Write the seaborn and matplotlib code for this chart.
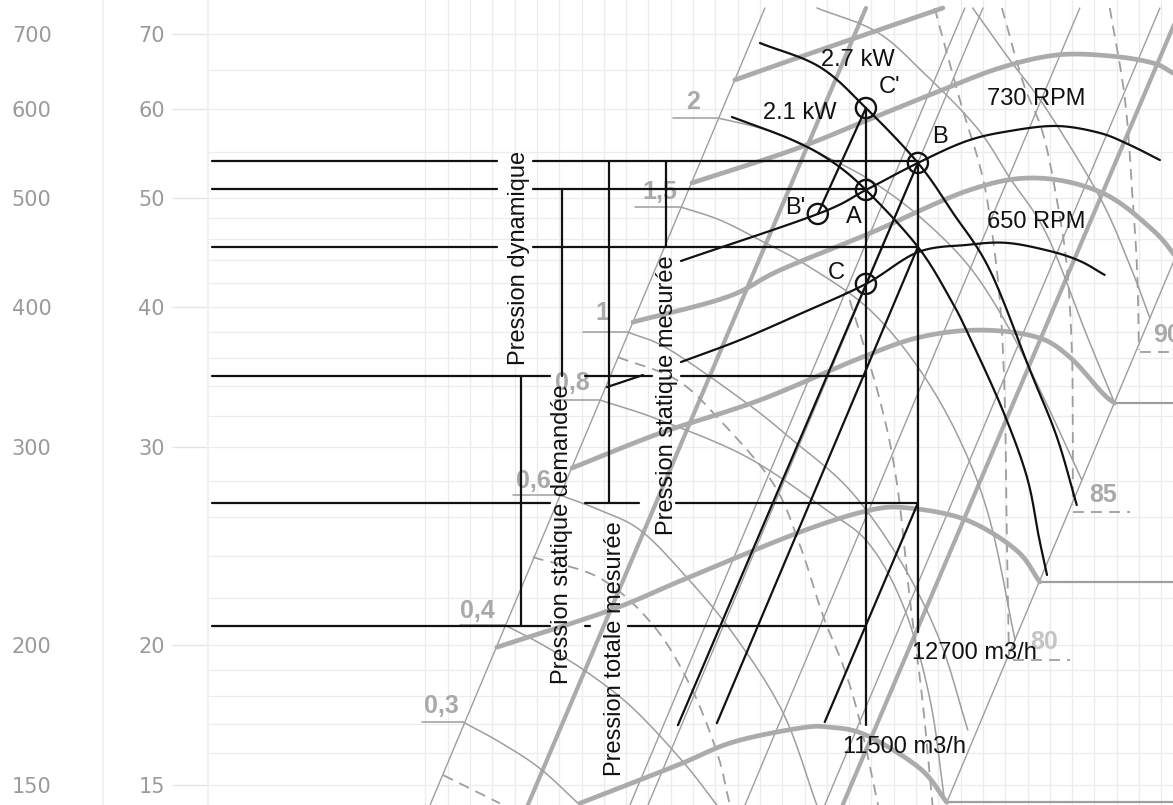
import matplotlib
matplotlib.use("Agg")
import matplotlib.pyplot as plt
import numpy as np
import seaborn as sns

sns.set_theme(style="white")
plt.rcParams['font.family'] = ['Liberation Sans', 'DejaVu Sans']

# ---------------- axis values (Pa / mmCE) ----------------
pa_ticks = [150, 200, 300, 400, 500, 600, 700]
mm_ticks = [15, 20, 30, 40, 50, 60, 70]
mm_grid = [15, 16, 17, 18, 19, 20, 22, 24, 26, 28, 30, 32, 34, 36, 38, 40,
           42, 44, 46, 48, 50, 55, 60, 65, 70]

# ---------------- grey fan-selection chart (flow m3/h, pressure Pa) -------
left_bound_q = [9483, 5003]
left_bound_p = [738.4, 143.9]
right_bound_q = [13420, 25350]
right_bound_p = [144.7, 738.4]
thick_left_q = [11500, 6030]
thick_left_p = [738.4, 143.9]
thick_right_q = [11000, 20990]
thick_right_p = [143.9, 738.4]
end_lines_p = [144.7, 227.4, 328.2]
end_lines_q0 = [13420, 16030, 18490]

# thin straight lines parallel to the boundaries
par_q_bottom = [7328, 7585, 9128, 10630]
par_q_top = [13890, 14380, 17300, 20160]

# fan curves (thick grey)
fan0_q = [6660, 8017, 8919, 10137, 10730, 11500, 12750, 13420]
fan0_p = [144.4, 156.1, 163.7, 168.5, 168.8, 166.1, 155.1, 144.7]
fan1_q = [5683, 7054, 8171, 10137, 11590, 12510, 13940, 15320, 16030]
fan1_p = [198.9, 214.6, 229.2, 251.9, 263.5, 264.6, 258.2, 242.8, 227.4]
fan2_q = [6560, 7762, 9393, 11370, 12750, 14300, 15940, 16970, 18070, 18490]
fan2_p = [287.3, 308.6, 330.3, 360.0, 375.8, 381.3, 375.8, 360.7, 335.0, 328.2]
fan3_q = [7370, 8816, 9759, 11590, 14020, 15940, 18070, 19890, 20950]
fan3_p = [387.6, 408.0, 431.2, 465.2, 508.3, 520.9, 505.1, 468.1, 438.4]
fan4_q = [8249, 10000, 11540, 13170, 14850, 16560, 18320, 19890, 20670]
fan4_p = [515.7, 551.8, 586.8, 621.4, 652.9, 670.5, 669.2, 659.6, 646.2]
fan5_q = [8952, 10137, 11590, 13320]
fan5_p = [637.0, 667.7, 701.5, 738.4]

# power curves (thin grey, kW)
kw_labels = ['2', '1,5', '1', '0,8', '0,6', '0,4', '0,3']
kw2_q = [8667, 9393, 10000, 10670, 11590, 12750, 14020, 15140, 16180, 17370]
kw2_p = [589.2, 577.2, 563.2, 543.9, 518.8, 480.9, 433.9, 381.3, 330.3, 280.3]
kw15_q = [8078, 8701, 9393, 10330, 11590, 12750, 13760, 14570, 15290]
kw15_p = [490.8, 477.9, 458.6, 433.9, 397.3, 351.2, 304.2, 258.2, 201.8]
kw1_q = [7300, 7912, 9159, 10000, 11150, 12270, 13240, 13970]
kw1_p = [379.8, 366.0, 328.2, 304.2, 274.6, 237.9, 201.8, 167.8]
kw08_q = [6920, 7762, 9159, 10670, 11590, 12390, 13000, 13370]
kw08_p = [330.3, 317.0, 293.9, 263.5, 245.3, 214.6, 178.4, 144.7]
kw06_q = [6411, 6920, 7470, 8108, 8919, 9818, 10470]
kw06_p = [271.8, 263.5, 253.0, 231.6, 204.7, 173.8, 143.9]
kw04_q = [5770, 6206, 6750, 7370, 8115, 8651]
kw04_p = [208.2, 199.8, 189.0, 175.5, 157.1, 143.9]
kw03_q = [5328, 5716, 6171, 6660]
kw03_p = [170.6, 163.7, 155.1, 143.9]
# higher-power curves entering from the top edge
kwtop_a_q = [10470, 11740, 12820, 14220, 15140, 16250, 17530, 18490]
kwtop_a_p = [738.4, 703.0, 647.5, 577.2, 520.9, 463.4, 377.4, 328.2]
kwtop_b_q = [14100, 15140, 16250, 17970, 19030, 19780]
kwtop_b_p = [738.4, 663.6, 599.0, 501.0, 435.8, 390.8]
kw_label_q = [8266, 7762, 6946, 6560, 6089, 5472, 5110]
kw_label_p = [609.0, 506.2, 394.9, 342.0, 279.7, 214.2, 176.2]
kw_tick_q0 = [7958, 7398, 6699, 6350, 5860, 5297, 4926]
kw_tick_q1 = [8651, 8062, 7300, 6920, 6411, 5770, 5328]
kw_tick_p = [589.2, 490.8, 379.8, 330.3, 271.8, 208.2, 170.6]

# efficiency curves (dashed grey, %)
eff_a_q = [5129, 5716]
eff_a_p = [153.0, 144.4]
eff_b_q = [6089, 6920, 7657, 8218, 8651, 8869]
eff_b_p = [239.3, 229.2, 208.2, 184.0, 160.4, 143.9]
eff_c_q = [7162, 8017, 8701, 9630, 10137, 10590, 11030, 11370, 11770]
eff_c_p = [360.7, 344.1, 317.0, 278.5, 245.3, 212.5, 190.5, 170.6, 143.9]
eff_d_q = [11150, 11810, 12200, 12510, 12810, 13060]
eff_d_p = [405.5, 330.3, 278.5, 219.0, 178.4, 143.9]
eff80_q = [13110, 13760, 14300, 14570, 14850, 14990, 15050, 15110]
eff80_p = [738.4, 611.4, 532.9, 480.9, 405.5, 330.3, 250.3, 195.7]
eff85_q = [14910, 15530, 16120, 16560, 16880, 17040, 17070, 17070]
eff85_p = [738.4, 633.1, 571.4, 497.9, 433.9, 366.0, 310.6, 266.3]
eff90_q = [18320, 18860, 19140, 19300, 19370]
eff90_p = [738.4, 611.4, 497.9, 431.2, 366.0]
eff_labels = ['80', '85', '90']
eff_label_q = [16150, 18100, 19890]
eff_label_p = [201.0, 271.8, 377.4]
eff_tick_q0 = [15230, 17070, 19410]
eff_tick_q1 = [16970, 19030, 20670]
eff_tick_p = [193.7, 262.5, 364.5]

# ---------------- black annotations ----------------
rpm730_q = [8078, 10490, 11500, 12700, 13940, 15140, 16560, 17970, 19030, 20160]
rpm730_p = [439.4, 483.9, 508.3, 537.3, 562.0, 573.7, 579.6, 571.4, 557.5, 540.5]
rpm650_q = [8078, 9041, 10137, 11500, 12700, 13940, 15050, 16340, 17300, 18140]
rpm650_p = [357.1, 373.6, 394.1, 419.2, 447.4, 454.1, 456.0, 448.4, 439.4, 427.0]
kw27_q = [9393, 10530, 11500, 12700, 13580, 14570, 15730, 16560, 17200]
kw27_p = [687.2, 654.2, 601.4, 537.3, 484.9, 431.2, 351.2, 306.1, 266.3]
kw21_q = [8903, 9947, 10730, 11500, 12700, 13500, 14020, 14930, 15640, 16000, 16250]
kw21_p = [590.4, 564.4, 540.5, 508.3, 452.3, 407.1, 375.8, 323.6, 282.0, 249.3, 230.7]

sys_start_q = [8031, 8651, 10630]
sys_start_p = [169.5, 170.2, 170.6]
sys_end_q = [12700, 12700, 12700]
sys_end_p = [537.3, 452.3, 267.4]

# horizontal pressure construction lines: level and drawn flow intervals
h_levels = [539.5, 509.3, 452.3, 347.0, 267.4, 207.7]
h_segments = [
    [(3299, 5683), (6089, 12700)],
    [(3299, 5683), (6089, 11500)],
    [(3299, 5683), (6089, 12700)],
    [(3299, 6290), (6720, 7650), (8080, 11500)],
    [(3299, 6290), (6720, 7460), (8000, 12700)],
    [(3299, 6290), (6720, 6790), (7300, 11500)],
]
v_q = [5950, 6436, 7040, 7851, 11500, 12700]
v_p0 = [347.0, 509.3, 539.5, 539.5, 601.4, 537.3]
v_p1 = [207.7, 347.0, 267.4, 452.3, 169.5, 205.1]

points = ["C'", "B", "A", "B'", "C"]
pt_q = [11500, 12700, 11500, 10490, 11500]
pt_p = [601.4, 537.3, 508.3, 483.9, 419.2]
pt_lab_q = [12020, 13240, 11240, 10040, 10860]
pt_lab_p = [627.9, 566.6, 480.9, 489.7, 428.6]

link_q = [10490, 11500]
link_p = [483.9, 601.4]
leader_q = [7013, 7513]
leader_p = [339.2, 347.7]

labels = ['2.7 kW', '2.1 kW', '730 RPM', '650 RPM', '12700 m3/h', '11500 m3/h']
lab_q = [11330, 10140, 15910, 15910, 14160, 12390]
lab_p = [663.6, 595.1, 612.6, 475.9, 196.5, 162.0]

vtexts = ['Pression dynamique', 'Pression statique demandée',
          'Pression totale mesurée', 'Pression statique mesurée']
vt_q = [5928, 6436, 7122, 7867]
vt_p = [442.1, 251.0, 198.5, 333.6]

# ---------------- figure ----------------
W, H = 1173, 805
fig = plt.figure(figsize=(W / 100, H / 100), dpi=100)
fig.patch.set_facecolor('white')
ax = fig.add_axes([208 / W, 0, 1 - 208 / W, 1])
ax.set_xscale('log')
ax.set_yscale('log')
ax.set_xlim(3274, 20670)
ax.set_ylim(143.9, 750.6)

GRID = '#ececec'
ax.set_yticks([v * 10 for v in mm_grid], minor=True)
ax.set_yticks([v * 10 for v in mm_ticks])
ax.set_yticklabels([str(v) for v in mm_ticks])
ax.yaxis.set_minor_formatter(matplotlib.ticker.NullFormatter())
ax.set_xticks([])
ax.xaxis.set_minor_locator(matplotlib.ticker.NullLocator())
ax.tick_params(axis='y', which='major', length=26, width=1.0, color='#e4e4e4',
               pad=5, labelsize=15, labelcolor='#9a9a9a', left=True)
ax.tick_params(axis='y', which='minor', length=0)
for t in ax.get_yticklabels():
    t.set_fontfamily('DejaVu Sans')
ax.grid(True, axis='y', which='both', color=GRID, lw=0.9, zorder=0)
for s in ['top', 'right', 'bottom']:
    ax.spines[s].set_visible(False)
ax.spines['left'].set_color('#f0f0f0')

# paper grid (vertical)
paper_q = 8266 * 1.0435 ** np.arange(-12, 23)
for q in paper_q:
    if 4800 < q < 20700:
        ax.axvline(q, color=GRID, lw=0.9, zorder=0)

ax2 = fig.add_axes([103 / W, 0, 0.0005, 1])
ax2.set_yscale('log')
ax2.set_ylim(143.9, 750.6)
ax2.set_yticks(pa_ticks)
ax2.set_yticklabels([str(v) for v in pa_ticks])
ax2.yaxis.set_minor_locator(matplotlib.ticker.NullLocator())
ax2.set_xticks([])
ax2.tick_params(axis='y', length=24, width=1.0, color='#e4e4e4', pad=13,
                labelsize=15, labelcolor='#9a9a9a')
for t in ax2.get_yticklabels():
    t.set_fontfamily('DejaVu Sans')
for s in ['top', 'right', 'bottom']:
    ax2.spines[s].set_visible(False)
ax2.spines['left'].set_color('#f0f0f0')
ax2.patch.set_alpha(0)

THIN = '#9e9e9e'
THICK = '#ababab'


def smooth(q, p, n=14):
    """Draw a smooth (Catmull-Rom, log space) path through the read points."""
    if len(q) < 3:
        return q, p
    P = np.column_stack([np.log10(q), np.log10(p)])
    P = np.vstack([2 * P[0] - P[1], P, 2 * P[-1] - P[-2]])
    t = np.linspace(0, 1, n, endpoint=False)[:, None]
    out = []
    for i in range(1, len(P) - 2):
        p0, p1, p2, p3 = P[i - 1], P[i], P[i + 1], P[i + 2]
        out.append(0.5 * (2 * p1 + (-p0 + p2) * t
                          + (2 * p0 - 5 * p1 + 4 * p2 - p3) * t ** 2
                          + (-p0 + 3 * p1 - 3 * p2 + p3) * t ** 3))
    out.append(P[-2][None, :])
    out = np.vstack(out)
    return 10 ** out[:, 0], 10 ** out[:, 1]


def line(q, p, color, lw, ls='-', z=2):
    xs, ys = smooth(q, p)
    sns.lineplot(x=xs, y=ys, ax=ax, color=color, lw=lw, linestyle=ls,
                 sort=False, estimator=None, zorder=z, legend=False)


# grey structure
line(left_bound_q, left_bound_p, THIN, 1.0)
line(right_bound_q, right_bound_p, THIN, 1.0)
line(thick_left_q, thick_left_p, THICK, 3.0)
line(thick_right_q, thick_right_p, THICK, 3.0)
for p0, q0 in zip(end_lines_p, end_lines_q0):
    line([q0, 21500], [p0, p0], THIN, 1.6)
for qb, qt in zip(par_q_bottom, par_q_top):
    line([qb, qt], [143.9, 738.4], THIN, 1.0)

for fq, fp in [(fan0_q, fan0_p), (fan1_q, fan1_p), (fan2_q, fan2_p),
               (fan3_q, fan3_p), (fan4_q, fan4_p), (fan5_q, fan5_p)]:
    line(fq, fp, THICK, 3.4, z=2.5)

for kq, kp in [(kw2_q, kw2_p), (kw15_q, kw15_p), (kw1_q, kw1_p),
               (kw08_q, kw08_p), (kw06_q, kw06_p), (kw04_q, kw04_p),
               (kw03_q, kw03_p), (kwtop_a_q, kwtop_a_p),
               (kwtop_b_q, kwtop_b_p)]:
    line(kq, kp, THIN, 1.1)
for lab, q, p, q0, q1, pt in zip(kw_labels, kw_label_q, kw_label_p,
                                 kw_tick_q0, kw_tick_q1, kw_tick_p):
    line([q0, q1], [pt, pt], THIN, 1.1)
    ax.text(q, p, lab, color='#a9a9a9', fontsize=18, fontweight='bold',
            ha='center', va='center', zorder=3)

DASH = (0, (6, 4))
for eq, ep in [(eff_a_q, eff_a_p), (eff_b_q, eff_b_p), (eff_c_q, eff_c_p),
               (eff_d_q, eff_d_p), (eff80_q, eff80_p), (eff85_q, eff85_p),
               (eff90_q, eff90_p)]:
    line(eq, ep, THIN, 1.3, ls=DASH)
for lab, q, p, q0, q1, pt in zip(eff_labels, eff_label_q, eff_label_p,
                                 eff_tick_q0, eff_tick_q1, eff_tick_p):
    line([q0, q1], [pt, pt], THIN, 1.3, ls=DASH)
    ax.text(q, p, lab, color='#c4c4c4' if lab == '80' else '#a9a9a9',
            fontsize=18, fontweight='bold',
            ha='center' if lab != '90' else 'left', va='center', zorder=3)

# black construction
BLK = '#111111'
for lvl, segs in zip(h_levels, h_segments):
    for a, b in segs:
        line([a, b], [lvl, lvl], BLK, 1.6, z=4)
for q, a, b in zip(v_q, v_p0, v_p1):
    line([q, q], [a, b], BLK, 1.6, z=4)
for q0, p0, q1, p1 in zip(sys_start_q, sys_start_p, sys_end_q, sys_end_p):
    line([q0, q1], [p0, p1], BLK, 1.6, z=4)
line(rpm730_q, rpm730_p, BLK, 1.6, z=4)
line(rpm650_q, rpm650_p, BLK, 1.6, z=4)
line(kw27_q, kw27_p, BLK, 1.6, z=4)
line(kw21_q, kw21_p, BLK, 1.6, z=4)
line(link_q, link_p, BLK, 1.6, z=4)
line(leader_q, leader_p, BLK, 1.6, z=4)

ax.scatter(pt_q, pt_p, s=210, facecolors='none', edgecolors=BLK,
           linewidths=1.7, zorder=5)
for lab, q, p in zip(points, pt_lab_q, pt_lab_p):
    ax.text(q, p, lab, fontsize=17, color=BLK, ha='center', va='center', zorder=6)
for lab, q, p in zip(labels, lab_q, lab_p):
    ax.text(q, p, lab, fontsize=17, color=BLK, ha='center', va='center', zorder=6)
for lab, q, p in zip(vtexts, vt_q, vt_p):
    ax.text(q, p, lab, fontsize=17, color=BLK, ha='center', va='center',
            rotation=90, zorder=6)

fig.savefig('out.png', dpi=100, facecolor='white')
